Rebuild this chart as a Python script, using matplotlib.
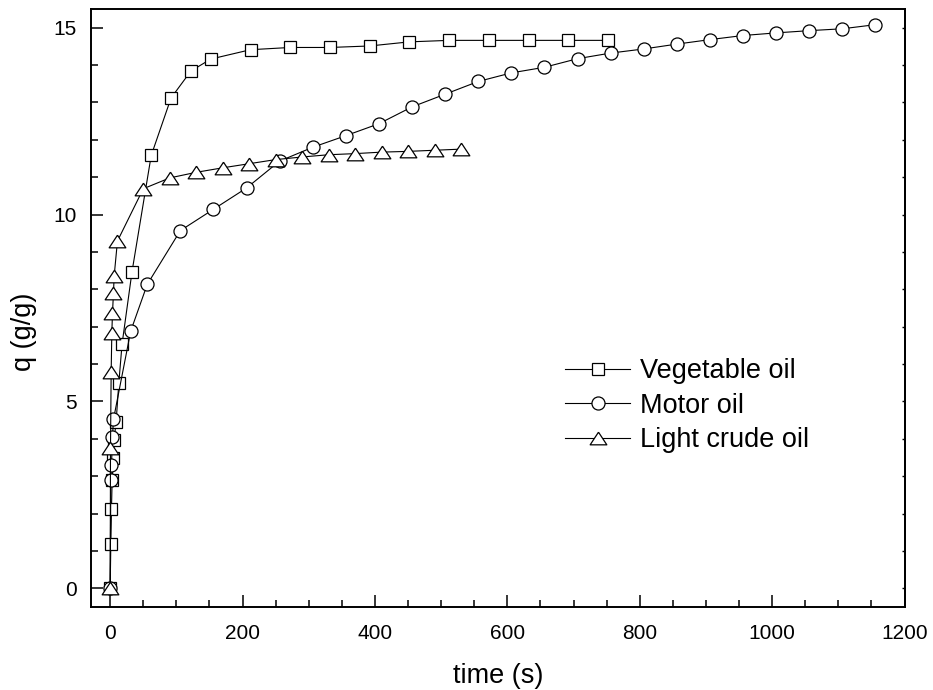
import numpy as np
import matplotlib
matplotlib.use('Agg')
from matplotlib import pyplot as plt
from matplotlib.ticker import MultipleLocator

plt.rcParams['font.family'] = ['Liberation Sans', 'DejaVu Sans']

# data (time in s, q in g/g)
veg_t = [0, 1, 2, 3, 5, 6, 9, 13, 18, 33, 62, 92, 122, 152, 212, 272, 332, 392,
         452, 512, 572, 632, 692, 752]
veg_q = [0, 1.19, 2.13, 2.91, 3.49, 3.97, 4.46, 5.48, 6.54, 8.47, 11.58, 13.12,
         13.84, 14.16, 14.41, 14.47, 14.47, 14.51, 14.62, 14.66, 14.66, 14.66,
         14.66, 14.66]

motor_t = [0, 1, 2, 3.5, 5, 31, 56, 106, 156, 206, 256, 306, 356, 406, 456, 506,
           556, 606, 656, 706, 756, 806, 856, 906, 956, 1006, 1056, 1106, 1156]
motor_q = [0, 2.9, 3.3, 4.05, 4.52, 6.88, 8.13, 9.57, 10.14, 10.71, 11.43, 11.8,
           12.11, 12.43, 12.88, 13.22, 13.56, 13.79, 13.94, 14.17, 14.32, 14.43,
           14.56, 14.68, 14.79, 14.86, 14.92, 14.97, 15.08]

crude_t = [0, 0.5, 1.5, 2.5, 3.5, 5, 6, 11, 50, 90, 130, 170, 210, 250, 290,
           330, 370, 410, 450, 490, 530]
crude_q = [0, 3.76, 5.78, 6.82, 7.37, 7.9, 8.35, 9.29, 10.69, 10.98, 11.13,
           11.25, 11.36, 11.47, 11.54, 11.6, 11.63, 11.67, 11.69, 11.72, 11.75]

labels = ['Vegetable oil', 'Motor oil', 'Light crude oil']

# wide, flat triangle like the original
tri = [(0, 0.76), (-1, -0.76), (1, -0.76), (0, 0.76)]

fig = plt.figure(figsize=(9.33, 6.9), dpi=100)
ax = fig.add_axes([0.0975, 0.1203, 0.872, 0.8667])

kw = dict(color='black', lw=0.8, mfc='white', mec='black', mew=0.9)
ax.plot(veg_t, veg_q, marker='s', ms=8.8, label=labels[0], **kw)
ax.plot(motor_t, motor_q, marker='o', ms=9.4, label=labels[1], **kw)
ax.plot(crude_t, crude_q, marker=tri, ms=12, label=labels[2], **kw)

ax.set_xlim(-29, 1200)
ax.set_ylim(-0.5, 15.5)
ax.xaxis.set_major_locator(MultipleLocator(200))
ax.xaxis.set_minor_locator(MultipleLocator(50))
ax.yaxis.set_major_locator(MultipleLocator(5))
ax.yaxis.set_minor_locator(MultipleLocator(1))
ax.tick_params(which='both', direction='in', width=1.1, top=False, right=False)
ax.tick_params(which='major', length=8.4)
ax.tick_params(which='minor', length=4.8)
ax.tick_params(axis='x', which='major', labelsize=15, pad=12)
ax.tick_params(axis='y', which='major', labelsize=15, pad=10)
for s in ax.spines.values():
    s.set_linewidth(1.4)

# short ticks on the right spine
ry = ax.secondary_yaxis('right')
ry.yaxis.set_major_locator(MultipleLocator(1))
ry.tick_params(direction='in', length=2.5, width=1.0, labelright=False)
ry.spines['right'].set_linewidth(1.4)

ax.set_xlabel('time (s)', fontsize=19.5, labelpad=15)
ax.set_ylabel('q (g/g)', fontsize=19.5, labelpad=12)
ax.yaxis.label.set_y(0.46)

ax.legend(loc='upper left', bbox_to_anchor=(0.6056, 0.481),
          bbox_transform=fig.transFigure, frameon=False, fontsize=19.5,
          handlelength=2.4, handletextpad=0.35, labelspacing=0.32,
          borderpad=0, borderaxespad=0, numpoints=1)

fig.savefig('out.png', dpi=100)
